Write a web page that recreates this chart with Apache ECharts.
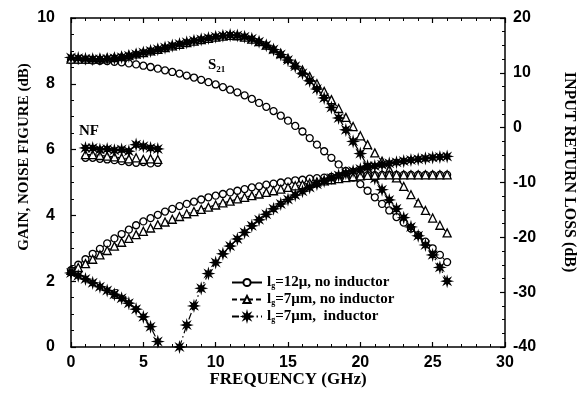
<!DOCTYPE html>
<html>
<head>
<meta charset="utf-8">
<script src="https://cdn.jsdelivr.net/npm/echarts@6/dist/echarts.min.js"></script>
<style>html,body{margin:0;padding:0;background:#fff}#c{width:583px;height:395px}</style>
</head>
<body>
<div id="c"></div>
<script>
// Frequency grid (GHz)
const freq = [0,0.5,1,1.5,2,2.5,3,3.5,4,4.5,5,5.5,6,6.5,7,7.5,8,8.5,9,9.5,10,10.5,11,11.5,12,12.5,13,13.5,14,14.5,15,15.5,16,16.5,17,17.5,18,18.5,19,19.5,20,20.5,21,21.5,22,22.5,23,23.5,24,24.5,25,25.5,26];
// S21 gain (dB), left axis
const s21_lg12 = [8.72,8.72,8.72,8.71,8.70,8.69,8.67,8.65,8.62,8.59,8.55,8.51,8.46,8.41,8.36,8.31,8.25,8.19,8.12,8.05,7.98,7.90,7.82,7.74,7.65,7.54,7.42,7.30,7.17,7.03,6.88,6.72,6.55,6.35,6.15,5.95,5.75,5.55,5.35,5.15,4.95,4.75,4.55,4.35,4.15,3.95,3.78,3.60,3.40,3.20,3.00,2.80,2.58];
const s21_lg7 = [8.75,8.75,8.75,8.75,8.76,8.78,8.80,8.83,8.87,8.91,8.95,9.00,9.05,9.10,9.15,9.20,9.25,9.30,9.34,9.38,9.42,9.45,9.47,9.46,9.42,9.36,9.28,9.18,9.06,8.92,8.77,8.60,8.42,8.22,8.00,7.77,7.52,7.25,6.98,6.70,6.42,6.15,5.90,5.65,5.40,5.14,4.88,4.63,4.38,4.15,3.92,3.70,3.47];
const s21_lg7L = [8.80,8.78,8.76,8.75,8.75,8.76,8.78,8.81,8.85,8.90,8.95,9.00,9.05,9.10,9.16,9.21,9.26,9.31,9.35,9.39,9.43,9.46,9.48,9.47,9.43,9.37,9.28,9.17,9.04,8.89,8.72,8.53,8.32,8.09,7.84,7.57,7.28,6.96,6.60,6.25,5.88,5.50,5.12,4.78,4.47,4.20,3.93,3.65,3.38,3.10,2.80,2.42,2.00];
// S11 input return loss (dB), right axis
const s11_lg12 = [-26,-25,-24,-23,-22.1,-21.1,-20.2,-19.4,-18.6,-17.8,-17.1,-16.5,-15.9,-15.3,-14.8,-14.3,-13.9,-13.5,-13.1,-12.7,-12.4,-12.1,-11.8,-11.5,-11.2,-10.9,-10.7,-10.4,-10.2,-10.0,-9.8,-9.6,-9.5,-9.3,-9.2,-9.1,-9.0,-8.9,-8.8,-8.75,-8.7,-8.65,-8.65,-8.6,-8.6,-8.6,-8.6,-8.6,-8.6,-8.6,-8.6,-8.6,-8.6];
const s11_lg7 = [-26,-25.5,-24.8,-24.0,-23.2,-22.4,-21.6,-20.9,-20.2,-19.5,-18.9,-18.3,-17.7,-17.2,-16.7,-16.2,-15.7,-15.3,-14.9,-14.5,-14.1,-13.7,-13.4,-13.0,-12.7,-12.4,-12.1,-11.8,-11.5,-11.2,-10.9,-10.6,-10.4,-10.1,-9.9,-9.7,-9.5,-9.3,-9.1,-8.95,-8.8,-8.7,-8.65,-8.6,-8.6,-8.6,-8.6,-8.6,-8.6,-8.6,-8.6,-8.6,-8.6];
const s11_lg7L = [-26.5,-27,-27.6,-28.3,-29,-29.7,-30.4,-31.1,-32,-33.1,-34.5,-36.3,-39,null,null,-40,-36,-32.5,-29.3,-26.6,-24.6,-23,-21.6,-20.3,-19.1,-17.9,-16.8,-15.8,-14.8,-13.9,-13.1,-12.3,-11.6,-10.9,-10.3,-9.7,-9.2,-8.7,-8.3,-7.9,-7.55,-7.25,-7.0,-6.75,-6.5,-6.3,-6.1,-5.9,-5.75,-5.6,-5.45,-5.35,-5.25];
// Noise figure (dB), left axis
const freqNF = [1,1.5,2,2.5,3,3.5,4,4.5,5,5.5,6];
const nf_lg12 = [5.75,5.75,5.72,5.70,5.68,5.65,5.62,5.60,5.62,5.58,5.60];
const nf_lg7 = [5.85,5.85,5.82,5.80,5.78,5.75,5.72,5.75,5.70,5.72,5.70];
const nf_lg7L = [6.05,6.05,6.00,6.02,5.98,6.00,5.95,6.15,6.10,6.05,6.02];
// Axis ticks
const xTicks = {min:0, max:30, interval:5};
const yLeftTicks = {min:0, max:10, interval:2};
const yRightTicks = {min:-40, max:20, interval:10};
const names = ['lg12','lg7','lg7L'];
const legendText = {lg12:'=12\u03bc, no inductor', lg7:'=7\u03bcm, no inductor', lg7L:'=7\u03bcm,  inductor'};

function pairs(xs, ys){ return xs.map((x,i)=>[x, ys[i]]); }

// asterisk-like star symbol
let pts=[];
for(let k=0;k<16;k++){const a=k*Math.PI/8;const r=(k%2===0)?10:4.2;pts.push((10+r*Math.cos(a)).toFixed(2)+','+(10+r*Math.sin(a)).toFixed(2));}
const starPath='path://M'+pts.join('L')+'Z';

const SERIF='"Liberation Serif","DejaVu Serif",serif';
const SANS='"Liberation Sans",Arial,sans-serif';

const styles = {
  lg12: {symbol:'circle', size:7, fill:'#fff', dash:'solid'},
  lg7: {symbol:'triangle', size:8, fill:'#fff', dash:[5,3]},
  lg7L: {symbol:starPath, size:9, fill:'#000', dash:[7,3,1.5,3]}
};

function mk(name, xs, ys, yIdx){
  const st = styles[name];
  return {
    name: name, type:'line', yAxisIndex:yIdx, data: pairs(xs, ys),
    symbol: st.symbol, symbolSize: st.size, showSymbol:true, connectNulls:false,
    lineStyle:{color:'#000', width:1.2, type: st.dash},
    itemStyle:{color: st.fill, borderColor:'#000', borderWidth:1.3},
    emphasis:{disabled:true}, z: 3
  };
}

const series = [
  mk('lg12', freq, s21_lg12, 0), mk('lg7', freq, s21_lg7, 0), mk('lg7L', freq, s21_lg7L, 0),
  mk('lg12', freq, s11_lg12, 1), mk('lg7', freq, s11_lg7, 1), mk('lg7L', freq, s11_lg7L, 1),
  mk('lg12', freqNF, nf_lg12, 0), mk('lg7', freqNF, nf_lg7, 0), mk('lg7L', freqNF, nf_lg7L, 0)
];

const tickLbl = {color:'#000', fontFamily:SANS, fontWeight:'bold', fontSize:16};
const axLine = {show:true, onZero:false, lineStyle:{color:'#000', width:1.5}};
const tick = {show:true, inside:true, length:5, lineStyle:{color:'#000', width:1.2}};

const chart = echarts.init(document.getElementById('c'), null, {renderer:'canvas'});
chart.setOption({
  animation:false,
  backgroundColor:'#fff',
  grid:{left:71, right:78, top:18, bottom:48, show:false},
  legend:{
    data:names, orient:'vertical', left:226, top:270, itemGap:2, itemWidth:30, itemHeight:9,
    selectedMode:false,
    formatter: n => '{l|l}{g|g}{t|' + legendText[n] + '}',
    textStyle:{color:'#000', rich:{
      l:{fontFamily:SERIF, fontWeight:'bold', fontSize:15, color:'#000'},
      g:{fontFamily:SERIF, fontWeight:'bold', fontSize:8, color:'#000', verticalAlign:'bottom', padding:[7,0,0,0]},
      t:{fontFamily:SERIF, fontWeight:'bold', fontSize:15, color:'#000'}
    }}
  },
  xAxis:[
    {type:'value', min:xTicks.min, max:xTicks.max, interval:xTicks.interval, position:'bottom',
     axisLine:axLine, axisTick:tick,
     minorTick:{show:true, splitNumber:5, length:3, lineStyle:{color:'#000'}},
     splitLine:{show:false}, axisLabel:{...tickLbl, margin:8}},
    {type:'value', min:xTicks.min, max:xTicks.max, interval:xTicks.interval, position:'top',
     axisLine:axLine, axisTick:tick,
     minorTick:{show:true, splitNumber:5, length:3, lineStyle:{color:'#000'}},
     splitLine:{show:false}, axisLabel:{show:false}}
  ],
  yAxis:[
    {type:'value', min:yLeftTicks.min, max:yLeftTicks.max, interval:yLeftTicks.interval, position:'left',
     axisLine:axLine, axisTick:tick,
     minorTick:{show:true, splitNumber:4, length:3, lineStyle:{color:'#000'}},
     splitLine:{show:false}, axisLabel:{...tickLbl, margin:16}},
    {type:'value', min:yRightTicks.min, max:yRightTicks.max, interval:yRightTicks.interval, position:'right',
     axisLine:axLine, axisTick:tick,
     minorTick:{show:true, splitNumber:4, length:3, lineStyle:{color:'#000'}},
     splitLine:{show:false}, axisLabel:{...tickLbl, margin:8}}
  ],
  graphic:[
    {type:'text', x:288, y:380, style:{text:'FREQUENCY (GHz)', fill:'#000', font:'bold 17px '+SERIF, align:'center', verticalAlign:'middle'}},
    {type:'text', x:24, y:157, rotation:Math.PI/2, style:{text:'GAIN, NOISE FIGURE (dB)', fill:'#000', font:'bold 15px '+SERIF, align:'center', verticalAlign:'middle'}},
    {type:'text', x:569, y:172, rotation:-Math.PI/2, style:{text:'INPUT RETURN LOSS (dB)', fill:'#000', font:'bold 16px '+SERIF, align:'center', verticalAlign:'middle'}},
    {type:'text', x:79, y:124, style:{text:'NF', fill:'#000', font:'bold 15px '+SERIF}},
    {type:'text', x:208, y:57, style:{text:'{s|S}{n|21}', rich:{s:{font:'bold 15px '+SERIF, fill:'#000'}, n:{font:'bold 9px '+SERIF, fill:'#000', padding:[8,0,0,0]}}}},
    {type:'text', x:111, y:287, style:{text:'{s|S}{n|11}', rich:{s:{font:'bold 15px '+SERIF, fill:'#000'}, n:{font:'bold 9px '+SERIF, fill:'#000', padding:[8,0,0,0]}}}}
  ],
  series: series
});
</script>
</body>
</html>
